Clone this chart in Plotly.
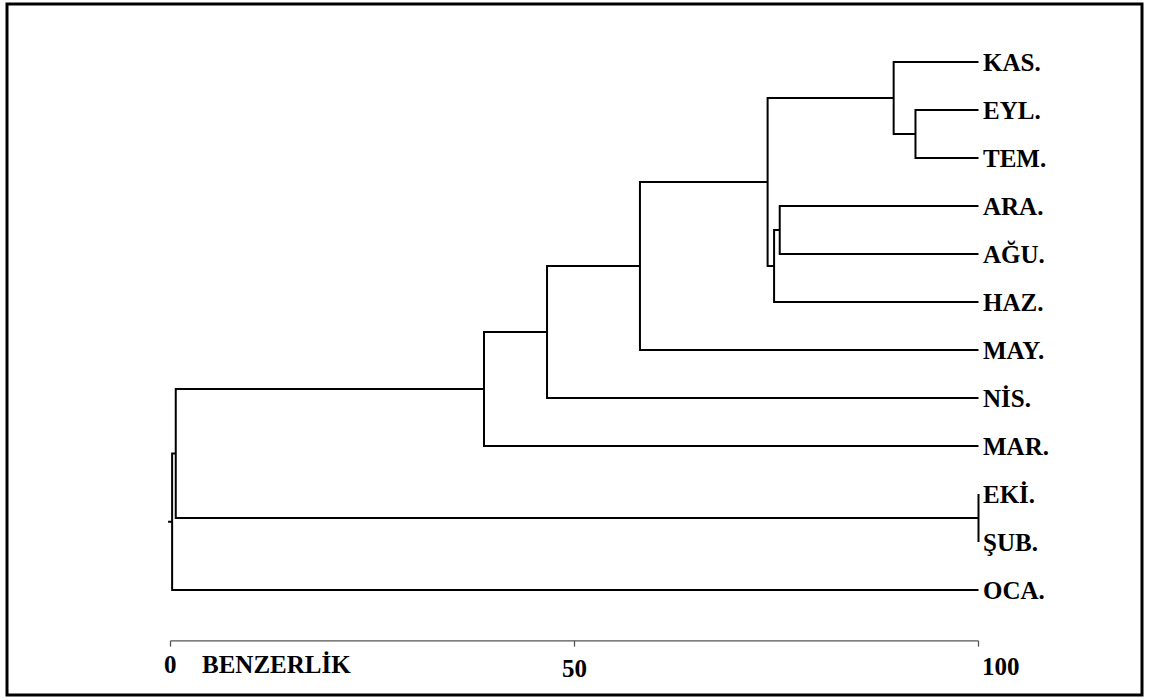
import plotly.graph_objects as go

# ---------------- data ----------------
leaf_labels = ["KAS.", "EYL.", "TEM.", "ARA.", "AĞU.", "HAZ.", "MAY.",
               "NİS.", "MAR.", "EKİ.", "ŞUB.", "OCA."]
# merges: node ids 0..11 are leaves, each merge creates node 12, 13, ...
merge_left = [1, 0, 3, 14, 13, 16, 17, 18, 9, 19, 21]
merge_right = [2, 12, 4, 5, 15, 6, 7, 8, 10, 20, 11]
merge_level = [92.2, 89.5, 75.4, 74.7, 73.9, 58.1, 46.6, 38.8, 100.0, 0.65, 0.2]

axis_ticks = [0, 50, 100]
axis_tick_labels = ["0", "50", "100"]
axis_title = "BENZERLİK"

# ---------------- geometry from data ----------------
n = len(leaf_labels)
node_x = [100.0] * n
node_y = [float(i) for i in range(n)]
xs, ys = [], []
for a, b, lev in zip(merge_left, merge_right, merge_level):
    ya, yb = node_y[a], node_y[b]
    # horizontal branches to children + vertical connector
    xs += [node_x[a], lev, lev, node_x[b], None]
    ys += [ya, ya, yb, yb, None]
    node_x.append(lev)
    node_y.append((ya + yb) / 2)
# root stub
root = len(node_x) - 1
xs += [node_x[root], -0.3, None]
ys += [node_y[root], node_y[root], None]

fig = go.Figure()
fig.add_trace(go.Scatter(x=xs, y=ys, mode="lines",
                         line=dict(color="black", width=2),
                         hoverinfo="skip", showlegend=False))

# bottom axis line with ticks
axis_y = 12.06
ax_x = [axis_ticks[0], axis_ticks[-1], None]
ax_y = [axis_y, axis_y, None]
for t in axis_ticks:
    ax_x += [t, t, None]
    ax_y += [axis_y, axis_y + 0.12, None]
fig.add_trace(go.Scatter(x=ax_x, y=ax_y, mode="lines",
                         line=dict(color="#555555", width=1.3),
                         hoverinfo="skip", showlegend=False))

font = dict(family="Liberation Serif", size=25, color="black")
annotations = []
for i, lab in enumerate(leaf_labels):
    annotations.append(dict(x=100, y=i, text="<b>" + lab + "</b>", showarrow=False,
                            xanchor="left", yanchor="middle", xshift=2,
                            font=font))
tick_y = [12.55, 12.64, 12.60]
tick_dx = [0, 0, 2.8]
for t, lab, ty, dx in zip(axis_ticks, axis_tick_labels, tick_y, tick_dx):
    annotations.append(dict(x=t + dx, y=ty, text="<b>" + lab + "</b>", showarrow=False,
                            xanchor="center", yanchor="middle", font=font))
annotations.append(dict(x=3.6, y=12.55, text="<b>" + axis_title + "</b>", showarrow=False,
                        xanchor="left", yanchor="middle", font=font))

# pixel mapping: x px = 170.5 + 8.08*v ; y px = 62 + 48*i
x0 = -170.5 / 8.08
x1 = (1150 - 170.5) / 8.08
y_top = -62 / 48
y_bot = (700 - 62) / 48

fig.update_layout(
    width=1150, height=700,
    margin=dict(l=0, r=0, t=0, b=0),
    paper_bgcolor="white", plot_bgcolor="white",
    xaxis=dict(range=[x0, x1], visible=False, fixedrange=True),
    yaxis=dict(range=[y_bot, y_top], visible=False, fixedrange=True),
    annotations=annotations,
    shapes=[dict(type="rect", xref="paper", yref="paper",
                 x0=7 / 1150, x1=1142 / 1150, y0=1 - 695 / 700, y1=1 - 4 / 700,
                 line=dict(color="black", width=3))],
    showlegend=False,
)

fig.write_html("out.html")
